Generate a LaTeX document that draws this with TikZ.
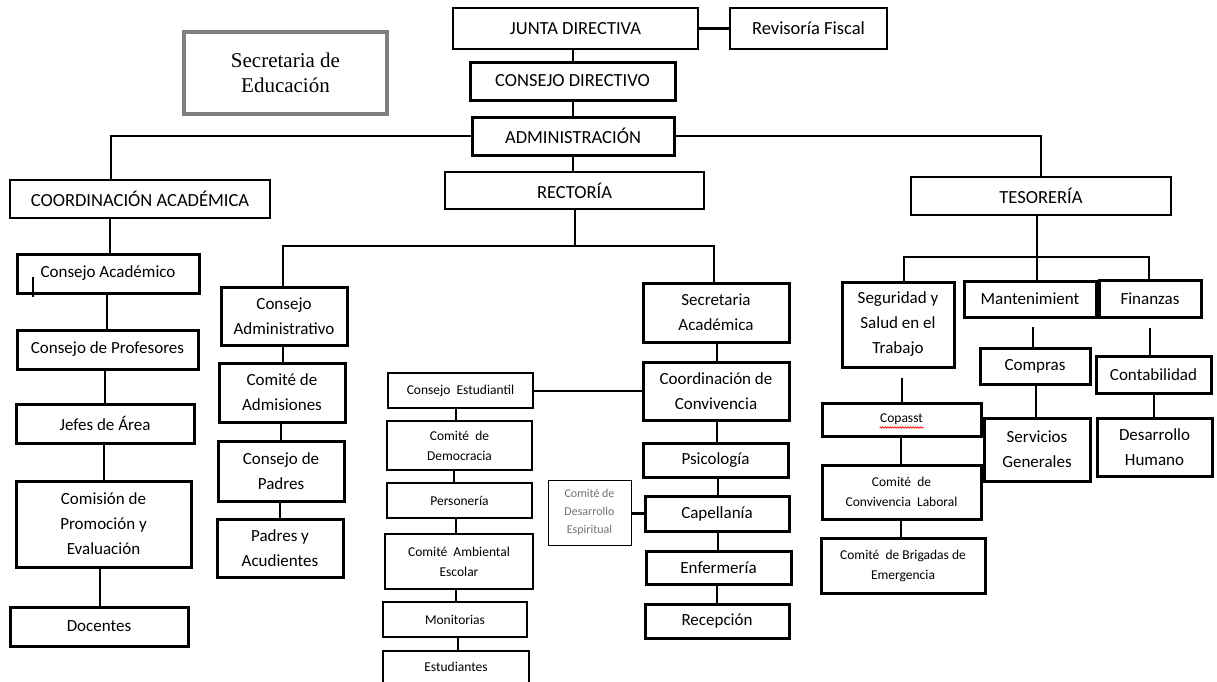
\documentclass[tikz,border=0pt]{standalone}
\usepackage{fontspec}
\setmainfont{Carlito}
\newfontfamily\tmsfont{Liberation Serif}
\usetikzlibrary{decorations.pathmorphing,calc}
\tikzset{
  boxbase/.style={draw=black, rectangle, inner sep=0pt, align=center, fill=white},
  thinbox/.style={boxbase, line width=1.4pt},
  hairbox/.style={boxbase, line width=1pt},
  thickbox/.style={boxbase, line width=3pt},
  grayframe/.style={boxbase, draw=black!50, line width=4pt},
  txtbig/.style={font=\fontsize{18.5}{24}\selectfont},
  txtmid/.style={font=\fontsize{17}{25}\selectfont},
  txtsmall/.style={font=\fontsize{13.5}{20}\selectfont},
  txttiny/.style={font=\fontsize{12}{18}\selectfont, text=black!55},
  txtserif/.style={font=\tmsfont\fontsize{21}{25}\selectfont},
  link/.style={draw=black, line width=2.5pt},
}
\newcommand{\bx}[7]{\node[#6, minimum width={(#4-#2)*1pt}, minimum height={(#5-#3)*1pt}] (#1) at ({(#2+#4)/2},{(#3+#5)/2}) {#7};}
\begin{document}
\begin{tikzpicture}[x=1pt,y=-1pt]
\useasboundingbox[fill=white] (0,0) rectangle (1217,681);
\clip (0,0) rectangle (1217,681);

% ---------- top ----------
\bx{jd}{453}{8}{698}{49}{thinbox,txtbig}{JUNTA DIRECTIVA}
\bx{rf}{730}{8}{887}{49}{thinbox,txtbig}{Revisoría Fiscal}
\bx{se}{184}{32}{387}{114}{grayframe,txtserif}{Secretaria de\\Educación}
\bx{cd}{470}{62}{675}{100}{thickbox,txtbig}{CONSEJO DIRECTIVO}
\bx{adm}{472}{117}{674}{155}{thickbox,txtbig}{ADMINISTRACIÓN}
\bx{rec}{445}{172}{704}{209}{thinbox,txtbig}{RECTORÍA}
\bx{ca}{10}{180}{270}{218}{thinbox,txtbig}{COORDINACIÓN ACADÉMICA}
\bx{tes}{911}{177}{1171}{215}{thinbox,txtbig}{TESORERÍA}

\draw[link] (jd.south -| 573,0) -- (cd.north -| 573,0);
\draw[link] (cd.south -| 573,0) -- (adm.north -| 573,0);
\draw[link] (adm.south -| 573,0) -- (rec.north -| 573,0);
\draw[link] (jd.east) -- (rf.west);
\draw[link] (ca.north -| 111,0) |- (adm.west);
\draw[link] (adm.east) -| (tes.north -| 1041,0);

% ---------- left column ----------
\bx{cac}{17}{254}{199}{293}{thickbox,txtmid}{Consejo Académico}
\bx{cp}{17}{330}{198}{369}{thickbox,txtmid}{Consejo de Profesores}
\bx{ja}{16}{404}{194}{443}{thickbox,txtmid}{Jefes de Área}
\bx{cpe}{16}{481}{191}{567}{thickbox,txtmid}{Comisión de\\Promoción y\\Evaluación}
\bx{doc}{10}{607}{188}{646}{thickbox,txtmid}{Docentes}
\draw[line width=1.5pt] (33,277) -- (33,297);

\draw[link] (ca.south -| 110,0) -- (cac.north -| 110,0);
\draw[link] (cac.south -| 107,0) -- (cp.north -| 107,0);
\draw[link] (cp.south -| 105,0) -- (ja.north -| 105,0);
\draw[link] (ja.south -| 104,0) -- (cpe.north -| 104,0);
\draw[link] (cpe.south -| 100,0) -- (doc.north -| 100,0);

% ---------- rectoria branch ----------
\bx{cadm}{221}{287}{347}{345}{thickbox,txtmid}{Consejo\\Administrativo}
\bx{cadmi}{219}{363}{345}{422}{thickbox,txtmid}{Comité de\\Admisiones}
\bx{cpad}{218}{441}{344}{501}{thickbox,txtmid}{Consejo de\\Padres}
\bx{pya}{217}{519}{343}{577}{thickbox,txtmid}{Padres y\\Acudientes}

\bx{sa}{643}{283}{789}{342}{thickbox,txtmid}{Secretaria\\Académica}
\bx{cc}{643}{362}{789}{420}{thickbox,txtmid}{Coordinación de\\Convivencia}
\bx{psi}{643}{443}{788}{477}{thickbox,txtmid}{Psicología}
\bx{cap}{645}{496}{789}{531}{thickbox,txtmid}{Capellanía}
\bx{enf}{646}{551}{791}{584}{thickbox,txtmid}{Enfermería}
\bx{rcp}{645}{604}{789}{638}{thickbox,txtmid}{Recepción}

\bx{ces}{388}{373}{533}{408}{thinbox,txtsmall}{Consejo\ \ Estudiantil}
\bx{cdem}{387}{421}{532}{470}{thinbox,txtsmall}{Comité\ \ de\\Democracia}
\bx{per}{387}{483}{532}{518}{thinbox,txtsmall}{Personería}
\bx{cae}{385}{534}{533}{589}{thinbox,txtsmall}{Comité\ \ Ambiental\\Escolar}
\bx{mon}{383}{602}{527}{637}{thinbox,txtsmall}{Monitorias}
\bx{est}{383}{651}{529}{683}{thinbox,txtsmall}{Estudiantes}
\bx{cdes}{548}{480}{631}{545}{hairbox,txttiny}{Comité de\\Desarrollo\\Espiritual}

\coordinate (rj) at (575,246);
\draw[link] (rec.south -| rj) -- (rj);
\draw[link] (cadm.north -| 283,0) |- (rj) -| (sa.north -| 714,0);
\draw[link] (cadm.south -| 283,0) -- (cadmi.north -| 283,0);
\draw[link] (cadmi.south -| 281,0) -- (cpad.north -| 281,0);
\draw[link] (cpad.south -| 280,0) -- (pya.north -| 280,0);

\draw[link] (sa.south -| 717,0) -- (cc.north -| 717,0);
\draw[link] (cc.south -| 717,0) -- (psi.north -| 717,0);
\draw[link] (psi.south -| 718,0) -- (cap.north -| 718,0);
\draw[link] (cap.south -| 718,0) -- (enf.north -| 718,0);
\draw[link] (enf.south -| 717,0) -- (rcp.north -| 717,0);
\draw[link] (cc.west) -- (ces.east |- cc.west);
\draw[link] (cap.west) -- (cdes.east |- cap.west);

\draw[link] (ces.south -| 456,0) -- (cdem.north -| 456,0);
\draw[link] (cdem.south -| 454,0) -- (per.north -| 454,0);
\draw[link] (per.south -| 456,0) -- (cae.north -| 456,0);
\draw[link] (cae.south -| 456,0) -- (mon.north -| 456,0);
\draw[link] (mon.south -| 458,0) -- (est.north -| 458,0);

% ---------- tesoreria branch ----------
\bx{sst}{842}{282}{954}{367}{thickbox,txtmid}{Seguridad y\\Salud en el\\Trabajo}
\bx{man}{964}{281}{1096}{317}{thickbox,txtmid}{Mantenimient}
\bx{fin}{1099}{280}{1201}{317}{thickbox,txtmid}{Finanzas}
\bx{com}{980}{348}{1090}{384}{thickbox,txtmid}{Compras}
\bx{sg}{984}{418}{1090}{481}{thickbox,txtmid}{Servicios\\Generales}
\bx{cont}{1096}{356}{1211}{393}{thickbox,txtmid}{Contabilidad}
\bx{dh}{1097}{418}{1212}{476}{thickbox,txtmid}{Desarrollo\\Humano}
\bx{cop}{822}{403}{981}{436}{thickbox,txtsmall}{Copasst}
\bx{ccl}{822}{465}{981}{519}{thickbox,txtsmall}{Comité\ \ de\\Convivencia\ \ Laboral}
\bx{cbe}{821}{538}{985}{593}{thickbox,txtsmall}{Comité\ \ de Brigadas de\\Emergencia}

\coordinate (tj) at (1037,257);
\draw[link] (tes.south -| tj) -- (tj);
\draw[link] (sst.north -| 904,0) |- (tj) -| (fin.north -| 1149,0);
\draw[link] (tj) -- (man.north -| tj);

\coordinate (mf) at (1033,327);
\coordinate (ff) at (1150,328);
\coordinate (sf) at (902,378);
\draw[link] (mf) -- (com.north -| mf);
\draw[link] (ff) -- (cont.north -| ff);
\draw[link] (sf) -- (cop.north -| sf);
\draw[link] (com.south -| 1036,0) -- (sg.north -| 1036,0);
\draw[link] (cont.south -| 1154,0) -- (dh.north -| 1154,0);
\draw[link] (cop.south -| 901,0) -- (ccl.north -| 901,0);
\draw[link] (ccl.south -| 901,0) -- (cbe.north -| 901,0);

\draw[red, line width=0.6pt, decorate, decoration={snake, amplitude=0.8pt, segment length=2.5pt}]
  ($(cop.center)+(-22,8)$) -- ($(cop.center)+(22,8)$);
\end{tikzpicture}
\end{document}
